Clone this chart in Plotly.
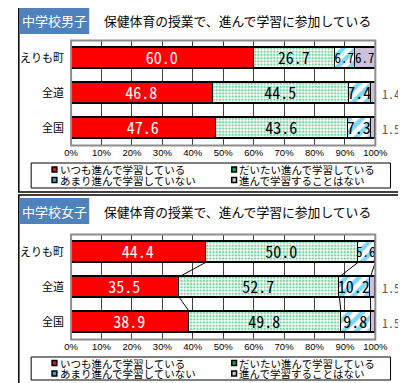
import plotly.graph_objects as go

W, H = 406, 383

categories = ['えりも町', '全道', '全国']
series_names = ['いつも進んで学習している', 'だいたい進んで学習している',
                'あまり進んで学習していない', '進んで学習することはない']

# 中学校男子
boys_always = [60.0, 46.8, 47.6]
boys_mostly = [26.7, 44.5, 43.6]
boys_rarely = [6.7, 7.4, 7.3]
boys_never = [6.7, 1.4, 1.5]

# 中学校女子
girls_always = [44.4, 35.5, 38.9]
girls_mostly = [50.0, 52.7, 49.8]
girls_rarely = [5.6, 10.2, 9.8]
girls_never = [0.0, 1.5, 1.5]

x_ticks = [0, 10, 20, 30, 40, 50, 60, 70, 80, 90, 100]

# the page puts the figure 8px in from the top-left corner, so positions
# read off the screenshot are moved back by that much
OFF = 8


def px(x):
    return (x - OFF) / W


def py(y):
    return 1 - (y - OFF) / H


JP = 'Noto Sans CJK JP'
NUM = 'Noto Sans Mono CJK JP, Liberation Mono, monospace'
BAR_W = 0.58

fig = go.Figure()


def add_panel(values, xa, ya, series_lines):
    styles = [
        dict(color='#FF0000', line=dict(color='black', width=1.5)),
        dict(color='white', line=dict(color='black', width=1.5),
             pattern=dict(shape='.', fgcolor='#00A845', bgcolor='white', size=3.2, solidity=0.5)),
        dict(color='white', line=dict(color='black', width=1.5),
             pattern=dict(shape='/', fgcolor='#00B0F0', bgcolor='white', size=9, solidity=0.5)),
        dict(color='#CCC0DA', line=dict(color='black', width=1.5)),
    ]
    text_colors = ['white', 'black', 'black', 'black']
    for i, vals in enumerate(values):
        texts = [f'{v:.1f}' if v >= 3 else '' for v in vals]
        sizes = [16 if v >= 7 else 13 for v in vals]
        fig.add_trace(go.Bar(
            x=vals, y=categories, orientation='h', name=series_names[i],
            width=BAR_W, marker=styles[i], text=texts,
            textposition='inside', insidetextanchor='middle', textangle=0,
            constraintext='none',
            textfont=dict(family=NUM, size=sizes, color=text_colors[i]),
            xaxis=xa, yaxis=ya, showlegend=False, hoverinfo='skip'))
    # small last values written outside the bar
    for j, v in enumerate(values[3]):
        if 0 < v < 3:
            fig.add_annotation(x=100, y=categories[j], xref=xa, yref=ya,
                               text=f'{v:.1f}', showarrow=False, xanchor='left', xshift=5,
                               font=dict(family=NUM, size=12, color='#595959'))
    # series lines between stacked segments
    if series_lines:
        for k in range(3):
            for j in range(len(categories) - 1):
                c0 = sum(values[s][j] for s in range(k + 1))
                c1 = sum(values[s][j + 1] for s in range(k + 1))
                fig.add_shape(type='line', xref=xa, yref=ya,
                              x0=c0, y0=j + BAR_W / 2, x1=c1, y1=j + 1 - BAR_W / 2,
                              line=dict(color='black', width=1))


add_panel([boys_always, boys_mostly, boys_rarely, boys_never], 'x', 'y', False)
add_panel([girls_always, girls_mostly, girls_rarely, girls_never], 'x2', 'y2', True)

xaxis_common = dict(range=[0, 100], tickvals=x_ticks, ticktext=[f'{t}%' for t in x_ticks],
                    showgrid=True, gridcolor='#404040', gridwidth=1, zeroline=False,
                    showline=False, ticks='', fixedrange=True,
                    tickfont=dict(family='Liberation Sans', size=9.5, color='black'))
yaxis_common = dict(type='category', categoryarray=categories, autorange='reversed',
                    showgrid=False, zeroline=False, showline=False, ticks='',
                    ticklabelstandoff=6,
                    tickfont=dict(family=JP, size=11, color='black'))

fig.update_layout(
    width=W, height=H, margin=dict(l=0, r=0, t=0, b=0),
    paper_bgcolor='white', plot_bgcolor='white', barmode='stack', bargap=0,
    xaxis=dict(domain=[px(67), px(387)], anchor='y', **xaxis_common),
    yaxis=dict(domain=[py(145.5), py(40.5)], anchor='x', **yaxis_common),
    xaxis2=dict(domain=[px(67), px(387)], anchor='y2', **xaxis_common),
    yaxis2=dict(domain=[py(339.5), py(234.5)], anchor='x2', **yaxis_common),
    font=dict(family=JP),
)

# plot area borders
for top, bottom in [(40.5, 145.5), (234.5, 339.5)]:
    fig.add_shape(type='rect', xref='paper', yref='paper',
                  x0=px(67), x1=px(387), y0=py(bottom), y1=py(top),
                  line=dict(color='#8C8C8C', width=2))

# panel frames
fig.add_shape(type='rect', xref='paper', yref='paper', x0=px(12), x1=px(430), y0=py(192), y1=py(5),
              line=dict(color='black', width=1.5))
fig.add_shape(type='rect', xref='paper', yref='paper', x0=px(12), x1=px(430), y0=py(400), y1=py(195),
              line=dict(color='black', width=1.5))

# headers
headers = ['中学校男子', '中学校女子']
title_text = '保健体育の授業で、進んで学習に参加している'
for label, (top, bottom) in zip(headers, [(7, 34), (198, 224)]):
    fig.add_shape(type='rect', xref='paper', yref='paper', x0=px(13), x1=px(86),
                  y0=py(bottom), y1=py(top), fillcolor='#4F81BD', line=dict(width=0))
    fig.add_annotation(x=px(49.5), y=py((top + bottom) / 2), xref='paper', yref='paper',
                       text=label, showarrow=False, xanchor='center', yanchor='middle',
                       font=dict(family=JP, size=13, color='white'))
    fig.add_annotation(x=px(100), y=py((top + bottom) / 2), xref='paper', yref='paper',
                       text=title_text, showarrow=False, xanchor='left', yanchor='middle',
                       font=dict(family=JP, size=12.8, color='black'))

# legends
legend_colors = ['#FF0000', '#00B050', '#00B0F0', '#CCC0DA']
for box_top, box_bottom, row1, row2 in [(163, 188, 169.5, 180), (357, 380, 363, 373.5)]:
    fig.add_shape(type='rect', xref='paper', yref='paper', x0=px(25), x1=px(403),
                  y0=py(box_bottom), y1=py(box_top), line=dict(color='black', width=1))
    spots = [(47, row1), (236, row1), (47, row2), (236, row2)]
    for name, color, (lx, ly) in zip(series_names, legend_colors, spots):
        fig.add_shape(type='rect', xref='paper', yref='paper', x0=px(lx), x1=px(lx + 5),
                      y0=py(ly + 2.5), y1=py(ly - 2.5), fillcolor=color,
                      line=dict(color='black', width=1.5))
        fig.add_annotation(x=px(lx + 6), y=py(ly), xref='paper', yref='paper', text=name,
                           showarrow=False, xanchor='left', yanchor='middle',
                           font=dict(family=JP, size=10.5, color='black'))

fig.write_html("out.html")
